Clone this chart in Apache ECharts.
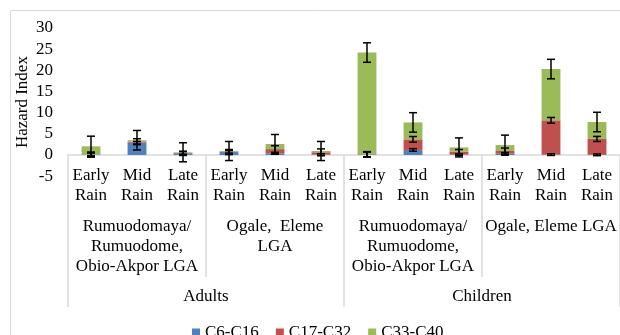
<!DOCTYPE html>
<html>
<head>
<meta charset="utf-8">
<script src="https://cdn.jsdelivr.net/npm/echarts@6/dist/echarts.min.js"></script>
<style>
html,body{margin:0;padding:0;background:#fff;}
#c{width:620px;height:335px;}
</style>
</head>
<body>
<div id="c"></div>
<script>
const seasons = ['Early\nRain','Mid\nRain','Late\nRain','Early\nRain','Mid\nRain','Late\nRain','Early\nRain','Mid\nRain','Late\nRain','Early\nRain','Mid\nRain','Late\nRain'];
const locations = ['Rumuodomaya/\nRumuodome,\nObio-Akpor LGA','Ogale,  Eleme\nLGA','Rumuodomaya/\nRumuodome,\nObio-Akpor LGA','Ogale, Eleme LGA'];
const groups = ['Adults','Children'];
const seriesNames = ['C6-C16','C17-C32','C33-C40'];
const c6c16 = [0.1, 2.9, 0.4, 0.7, 0.4, 0.1, 0.1, 1.2, 0.1, 0.3, 0.1, 0.05];
const c17c32 = [0.05, 0.25, 0.1, 0.05, 1.0, 0.55, 0.1, 2.5, 0.7, 0.65, 8.1, 3.75];
const c33c40 = [1.9, 0.35, 0.15, 0.2, 1.2, 0.3, 24.0, 4.0, 1.0, 1.4, 12.1, 4.0];
const c6c16Err = [0.6, 0.3, 0.5, 0.6, 0.2, 0.2, 0.6, 0.3, 0.2, 0.3, 0.2, 0.2];
const c17c32Err = [0.3, 0.7, 0.3, 0.3, 0.8, 0.8, 0.6, 0.67, 0.5, 0.7, 0.67, 0.6];
const c33c40Err = [2.4, 2.3, 2.25, 2.25, 2.25, 2.25, 2.3, 2.3, 2.25, 2.35, 2.3, 2.3];
const yTicks = {min: -5, max: 30, interval: 5};

const FONT = 'Liberation Serif';
const TXT = '#000';
const colors = ['#4f81bd', '#c0504d', '#9bbb59'];
const values = [c6c16, c17c32, c33c40];
const errs = [c6c16Err, c17c32Err, c33c40Err];

// cumulative tops for error bars
const errData = [];
for (let i = 0; i < seasons.length; i++) {
  let cum = 0;
  for (let s = 0; s < 3; s++) {
    cum += values[s][i];
    errData.push([i, cum, errs[s][i]]);
  }
}

const chart = echarts.init(document.getElementById('c'), null, {renderer: 'canvas'});
const option = {
  animation: false,
  color: colors,
  textStyle: {fontFamily: FONT},
  graphic: [{
    type: 'rect', shape: {x: 10.5, y: 10.5, width: 700, height: 400},
    style: {fill: 'none', stroke: '#d9d9d9', lineWidth: 1}, silent: true, z: -10
  }],
  grid: {left: 68, right: 0, top: 28, bottom: 158.8, outerBoundsMode: 'none', containLabel: false},
  legend: {
    data: seriesNames, left: 187, top: 319, icon: 'rect', itemWidth: 8, itemHeight: 8, itemGap: 17,
    textStyle: {fontFamily: FONT, fontSize: 17, color: TXT}
  },
  xAxis: [{
    type: 'category', data: seasons,
    axisLine: {onZero: true, lineStyle: {color: '#d9d9d9', width: 1.5}},
    axisTick: {show: false},
    axisLabel: {interval: 0, margin: -10, fontFamily: FONT, fontSize: 17, lineHeight: 19.5, color: TXT}
  }, {
    type: 'category', data: locations, position: 'bottom',
    axisLine: {show: false, onZero: true, onZeroAxisIndex: 0},
    axisTick: {show: true, length: 122, lineStyle: {color: '#d9d9d9', width: 1.5}},
    axisLabel: {interval: 0, margin: 40.5, fontFamily: FONT, fontSize: 17, lineHeight: 20, color: TXT}
  }, {
    type: 'category', data: groups, position: 'bottom',
    axisLine: {show: false, onZero: true, onZeroAxisIndex: 0},
    axisTick: {show: true, length: 152, lineStyle: {color: '#d9d9d9', width: 1.5}},
    axisLabel: {interval: 0, margin: 110.5, fontFamily: FONT, fontSize: 17, lineHeight: 20, color: TXT}
  }],
  yAxis: {
    type: 'value', min: yTicks.min, max: yTicks.max, interval: yTicks.interval,
    name: 'Hazard Index', nameLocation: 'middle', nameGap: 37, nameMoveOverlap: false,
    nameTextStyle: {fontFamily: FONT, fontSize: 17, color: TXT},
    axisLine: {show: false}, axisTick: {show: false}, splitLine: {show: false},
    axisLabel: {margin: 15, fontFamily: FONT, fontSize: 17, color: TXT}
  },
  series: seriesNames.map((n, k) => ({
    name: n, type: 'bar', stack: 'hi', data: values[k], barWidth: '41%',
    itemStyle: {color: colors[k]}
  })).concat([{
    type: 'custom', name: 'err', data: errData, z: 10,
    renderItem: function (params, api) {
      const x = api.value(0), y = api.value(1), e = api.value(2);
      const top = api.coord([x, y + e]);
      const bot = api.coord([x, y - e]);
      const cx = top[0];
      const hw = 4;
      const st = {stroke: '#000', lineWidth: 1.5};
      return {type: 'group', children: [
        {type: 'line', shape: {x1: cx, y1: top[1], x2: cx, y2: bot[1]}, style: st},
        {type: 'line', shape: {x1: cx - hw, y1: top[1], x2: cx + hw, y2: top[1]}, style: st},
        {type: 'line', shape: {x1: cx - hw, y1: bot[1], x2: cx + hw, y2: bot[1]}, style: st}
      ]};
    }
  }])
};
chart.setOption(option);
</script>
</body>
</html>
